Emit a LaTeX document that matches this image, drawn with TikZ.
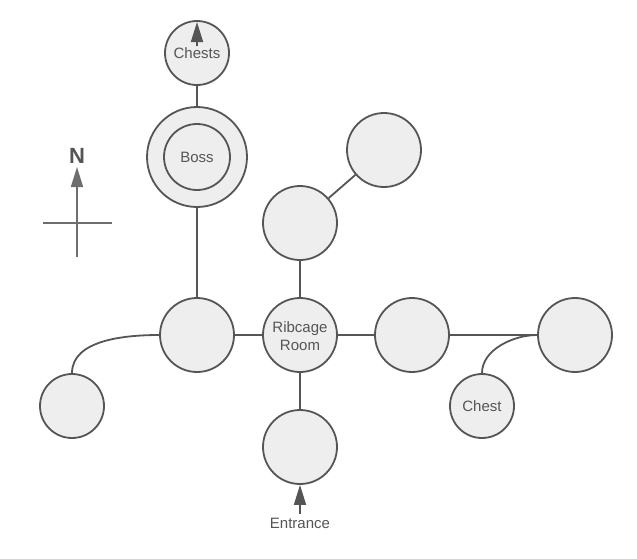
\documentclass[tikz,border=0pt]{standalone}
\usepackage{fontspec}
\setmainfont{Liberation Sans}
\usetikzlibrary{arrows.meta}
\definecolor{nodefill}{HTML}{EEEEEE}
\definecolor{edgecol}{HTML}{555555}
\definecolor{txtcol}{HTML}{555555}
\definecolor{compcol}{HTML}{6E6E6E}
\begin{document}
\begin{tikzpicture}[x=1pt,y=-1pt,
  room/.style={circle,draw=edgecol,fill=nodefill,line width=1.8pt,inner sep=0pt,minimum size=74pt,
    text=txtcol,font=\fontsize{15}{18}\selectfont,align=center},
  smallroom/.style={room,minimum size=64pt},
  link/.style={draw=edgecol,line width=1.8pt},
  arr/.style={draw=edgecol,line width=1.8pt,-{Triangle[width=12pt,length=20pt]},fill=edgecol},
  comp/.style={draw=compcol,line width=1.6pt},
  lbl/.style={text=txtcol,font=\fontsize{15}{18}\selectfont,inner sep=0pt}]
\useasboundingbox (0,0) rectangle (637,558);
% rooms
\node[smallroom] (chests) at (197,53) {};
\node[room,minimum size=100pt] (boss) at (197,157) {};
\node[room,minimum size=66pt] (bossin) at (197,157) {Boss};
\node[room] (west) at (197,335) {};
\node[room] (rib) at (300,335) {};
\node[lbl,align=center] (riblbl) at (300,336) {Ribcage\\Room};
\node[room] (up) at (300,223) {};
\node[room] (ne) at (384,150) {};
\node[room] (east) at (412,335) {};
\node[room] (far) at (575,335) {};
\node[room] (south) at (300,447) {};
\node[smallroom] (chest) at (482,406) {Chest};
\node[smallroom] (farwest) at (72,406) {};
% links
\draw[link] (chests) -- (boss);
\draw[link] (boss) -- (west);
\draw[link] (west) -- (rib);
\draw[link] (rib) -- (east);
\draw[link] (east) -- (far);
\draw[link] (rib) -- (up);
\draw[link] (up) -- (ne);
\draw[link] (rib) -- (south);
\draw[link] (farwest.north) to[out=90,in=180,looseness=0.9] (west.west);
\draw[link] (chest.north) to[out=90,in=180,looseness=0.9] (far.west);
% chests arrow text
\node[lbl] (chestslbl) at (197,53) {Chests};
\coordinate (chestsbase) at (197,46);
\coordinate (cheststip) at (197,22);
\draw[arr] (chestsbase) -- (cheststip);
% entrance
\coordinate (entbase) at (300,514);
\draw[arr] (entbase) -- (south.south);
\node[lbl] (entlbl) at (300,523) {Entrance};
% compass
\coordinate (cn) at (77,167);
\coordinate (cs) at (77,257);
\coordinate (cw) at (43,223);
\coordinate (ce) at (112,223);
\draw[comp] (cw) -- (ce);
\draw[comp,-{Triangle[width=12pt,length=20pt]},fill=compcol,draw=compcol] (cs) -- (cn);
\node[text=txtcol,font=\fontsize{22}{24}\selectfont\bfseries,inner sep=0pt] (nlbl) at (77,156) {N};
\end{tikzpicture}
\end{document}
